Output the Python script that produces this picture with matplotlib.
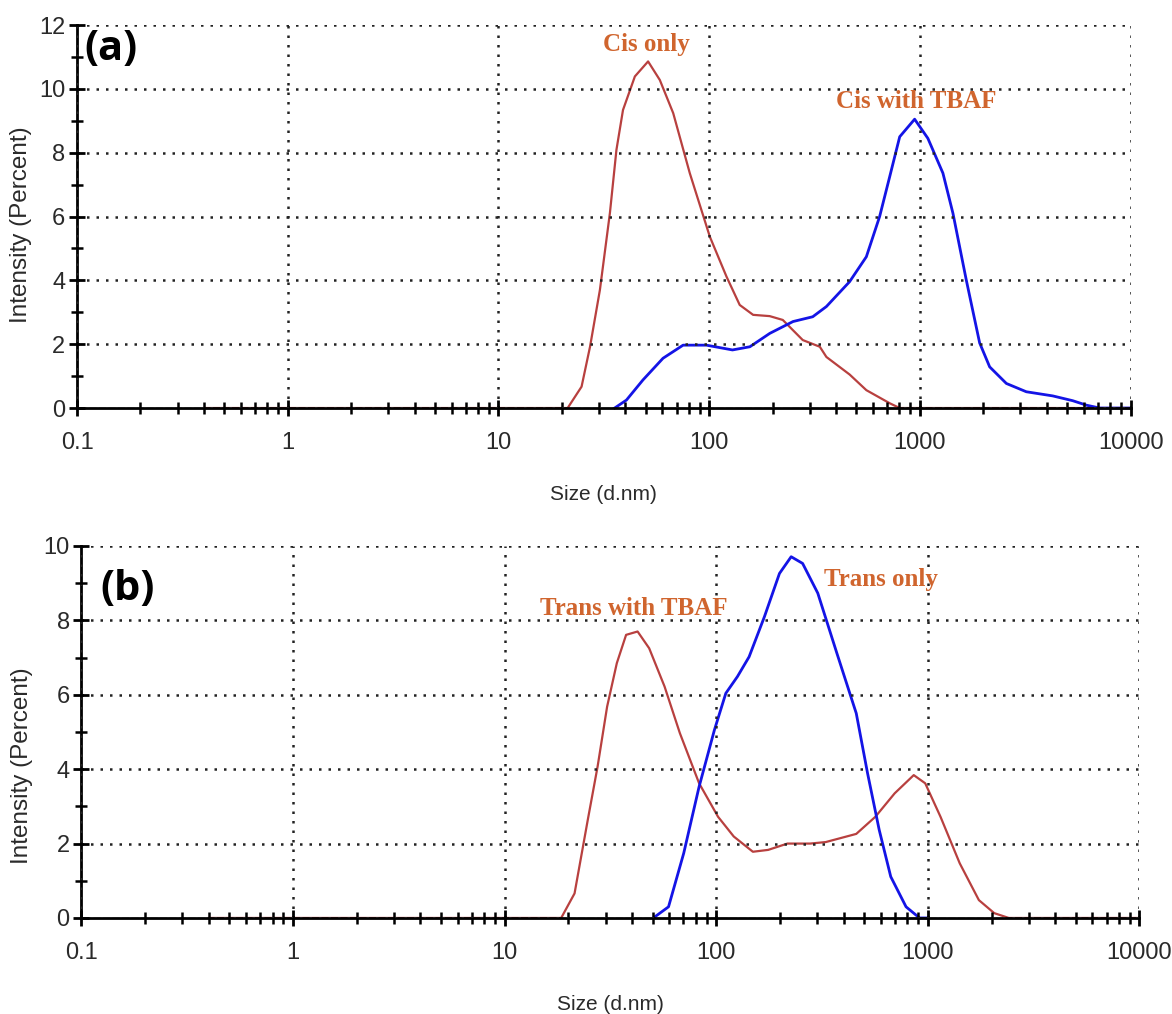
import numpy as np
import matplotlib
matplotlib.use("Agg")
import matplotlib.pyplot as plt
from matplotlib.ticker import FixedLocator, NullFormatter, FuncFormatter

plt.rcParams['font.family'] = ['Liberation Sans Narrow', 'Liberation Sans', 'DejaVu Sans']

# ---- data ----
# (a) Cis only (red)
cis_x = [0.4, 21.3, 24.8, 27.2, 30.3, 33.8, 36.3, 39.0, 44.4, 51.3, 58.3, 67.5, 80.9,
         100.7, 120.8, 139.6, 161.6, 193.7, 223.5, 278, 335, 360, 464, 557, 719, 802, 10000]
cis_y = [0, 0, 0.67, 1.92, 3.70, 6.11, 8.09, 9.34, 10.39, 10.86, 10.28, 9.24, 7.36,
         5.37, 4.12, 3.23, 2.92, 2.88, 2.76, 2.13, 1.92, 1.60, 1.05, 0.56, 0.15, 0, 0]
# (a) Cis with TBAF (blue)
cist_x = [35.6, 40.5, 48.5, 60.4, 75.2, 97, 129, 156, 194, 250, 310, 360, 464, 557,
          644, 719, 802, 944, 1091, 1286, 1435, 1660, 1921, 2143, 2572, 3198, 4270,
          5310, 6166, 7130, 10000]
cist_y = [0, 0.25, 0.88, 1.56, 1.97, 1.97, 1.82, 1.92, 2.34, 2.71, 2.86, 3.18, 3.96, 4.74,
          6.0, 7.25, 8.5, 9.05, 8.45, 7.36, 6.10, 4.01, 2.04, 1.29, 0.77, 0.51, 0.38,
          0.23, 0.09, 0, 0]
# (b) Trans with TBAF (red)
trt_x = [0.4, 18.5, 21.4, 24.7, 27.5, 30.5, 33.9, 37.5, 42.5, 48.2, 57.0, 67.3, 83,
         102, 121, 149, 176, 217, 278, 329, 459, 565, 697, 858, 972, 1148, 1415,
         1743, 2060, 2415, 10000]
trt_y = [0, 0, 0.66, 2.63, 4.07, 5.68, 6.85, 7.61, 7.70, 7.25, 6.22, 4.97, 3.62,
         2.72, 2.19, 1.78, 1.83, 2.00, 2.00, 2.04, 2.26, 2.72, 3.35, 3.84, 3.62, 2.72,
         1.47, 0.48, 0.13, 0, 0]
# (b) Trans only (blue)
tr_x = [50.4, 59.5, 70.2, 83, 98, 111, 126, 143, 169, 199, 226, 256, 302, 372, 459,
        519, 589, 668, 789, 914, 1000]
tr_y = [0, 0.30, 1.74, 3.53, 5.05, 6.04, 6.49, 7.02, 8.10, 9.26, 9.71, 9.53, 8.73,
        7.11, 5.50, 3.89, 2.37, 1.11, 0.30, 0, 0]

red = '#b8403f'
blue = '#1414e6'
lab_col = '#d0652e'
grid_ls = (0, (1, 2.8))

fig = plt.figure(figsize=(11.72, 10.14), dpi=100)
ax1 = fig.add_axes([0.0657, 0.5976, 0.899, 0.3777])
ax2 = fig.add_axes([0.0695, 0.0947, 0.9027, 0.3669])


def style(ax, ymax, ylab_x, ylab_y):
    ax.set_xscale('log')
    ax.set_xlim(0.1, 10000)
    ax.set_ylim(0, ymax)
    ax.spines['top'].set_visible(False)
    ax.spines['right'].set_visible(False)
    ax.spines['left'].set_linewidth(2)
    ax.spines['bottom'].set_linewidth(2)
    ax.xaxis.set_major_locator(FixedLocator([0.1, 1, 10, 100, 1000, 10000]))
    ax.xaxis.set_major_formatter(FuncFormatter(lambda v, p: '%g' % v))
    minors = [m * 10.0 ** e for e in range(-1, 4) for m in range(2, 10)]
    ax.xaxis.set_minor_locator(FixedLocator(minors))
    ax.xaxis.set_minor_formatter(NullFormatter())
    ax.yaxis.set_major_locator(FixedLocator(list(range(0, ymax + 1, 2))))
    ax.yaxis.set_minor_locator(FixedLocator(list(range(1, ymax, 2))))
    ax.tick_params(axis='both', which='major', direction='inout', length=11, width=2,
                   labelsize=17, labelcolor='#2a2a2a')
    ax.tick_params(axis='both', which='minor', direction='inout', length=8, width=1.8)
    ax.tick_params(axis='x', which='major', pad=12)
    ax.tick_params(axis='y', which='major', pad=3)
    ax.grid(True, which='major', color='#222222', linestyle=grid_ls, linewidth=1.8)
    ax.set_axisbelow(False)
    ax.set_xlabel('Size (d.nm)', fontsize=15, color='#2a2a2a', labelpad=22)
    ax.set_ylabel('Intensity (Percent)', fontsize=17.5, color='#2a2a2a')
    ax.yaxis.set_label_coords(ylab_x, ylab_y)


style(ax1, 12, -0.043, 0.478)
ax1.plot(cis_x, cis_y, color=red, lw=1.6, clip_on=False)
ax1.plot(cist_x, cist_y, color=blue, lw=2, clip_on=False)
ax1.text(50.6, 11.4, 'Cis only', color=lab_col, fontsize=18, fontweight='bold',
         family='Liberation Serif', ha='center', va='center')
ax1.text(966, 9.6, 'Cis with TBAF', color=lab_col, fontsize=18, fontweight='bold',
         family='Liberation Serif', ha='center', va='center')

style(ax2, 10, -0.046, 0.41)
ax2.plot(trt_x, trt_y, color=red, lw=1.6, clip_on=False)
ax2.plot(tr_x, tr_y, color=blue, lw=2, clip_on=False)
ax2.text(40.9, 8.33, 'Trans with TBAF', color=lab_col, fontsize=18, fontweight='bold',
         family='Liberation Serif', ha='center', va='center')
ax2.text(603, 9.11, 'Trans only', color=lab_col, fontsize=18, fontweight='bold',
         family='Liberation Serif', ha='center', va='center')

fig.text(111 / 1172, 1 - 50 / 1014, '(a)', fontsize=30, fontweight='bold',
         family='Open Sans', ha='center', va='center')
fig.text(128 / 1172, 1 - 590 / 1014, '(b)', fontsize=30, fontweight='bold',
         family='Open Sans', ha='center', va='center')

fig.savefig('out.png', dpi=100)
